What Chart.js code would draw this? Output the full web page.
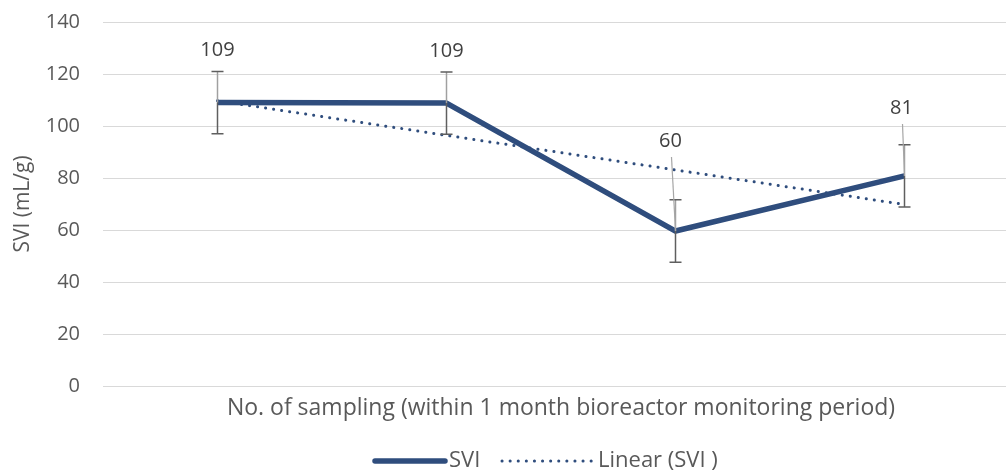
<!DOCTYPE html>
<html>
<head>
<meta charset="utf-8">
<script src="https://cdn.jsdelivr.net/npm/chart.js@4.4.0/dist/chart.umd.min.js"></script>
<style>
  html, body { margin: 0; padding: 0; background: #fff; overflow: hidden; }
  #wrap { width: 1030px; height: 473px; position: relative; }
</style>
</head>
<body>
<div id="wrap"><canvas id="graficoSvi"></canvas></div>
<script>
// dados
const amostras = ['1', '2', '3', '4'];
const svi = [109, 108.8, 59.6, 80.8];
const erroSvi = [12, 12, 12, 12];
const tendencia = [109.7, 96.4, 83.1, 69.8];   // linha de tendência linear (SVI)
const ticksY = [0, 20, 40, 60, 80, 100, 120, 140];

const fonte = '"Open Sans", Lato, sans-serif';
const corTexto = '#595959';
const corSerie = '#2F4D7D';

// barras de erro, rótulos e legenda desenhados à mão
const extrasPlugin = {
    id: 'extras',
    afterDatasetsDraw(chart, args, opts) {
        const ctx = chart.ctx;
        const y = chart.scales.y;
        const pts = chart.getDatasetMeta(0).data;
        ctx.save();
        pts.forEach((pt, i) => {
            const yTop = y.getPixelForValue(svi[i] + erroSvi[i]);
            const yBot = y.getPixelForValue(svi[i] - erroSvi[i]);
            ctx.lineWidth = 1.5;
            ctx.strokeStyle = '#A0A0A0';
            ctx.beginPath();
            ctx.moveTo(pt.x, yTop);
            ctx.lineTo(pt.x, pt.y);
            ctx.stroke();
            ctx.strokeStyle = '#5F5F5F';
            ctx.beginPath();
            ctx.moveTo(pt.x, pt.y);
            ctx.lineTo(pt.x, yBot);
            ctx.moveTo(pt.x - 6, yTop); ctx.lineTo(pt.x + 6, yTop);
            ctx.moveTo(pt.x - 6, yBot); ctx.lineTo(pt.x + 6, yBot);
            ctx.stroke();

            // rótulo de dados
            const off = opts.offsets[i];
            const lx = pt.x + off[0];
            const ly = pt.y + off[1];
            if (off[2]) {
                ctx.strokeStyle = '#A6A6A6';
                ctx.lineWidth = 1.2;
                ctx.beginPath();
                ctx.moveTo(lx + 1, ly + 16);
                ctx.lineTo(pt.x, pt.y);
                ctx.stroke();
            }
            ctx.fillStyle = '#404040';
            ctx.font = '20px ' + fonte;
            ctx.textAlign = 'center';
            ctx.textBaseline = 'middle';
            ctx.fillText(String(Math.round(svi[i])), lx, ly);
        });
        ctx.restore();
    },
    afterDraw(chart) {
        const ctx = chart.ctx;
        const ly = 461;
        ctx.save();
        ctx.strokeStyle = corSerie;
        ctx.lineCap = 'round';
        ctx.lineWidth = 5.5;
        ctx.beginPath();
        ctx.moveTo(375, ly); ctx.lineTo(445, ly);
        ctx.stroke();
        ctx.lineWidth = 3;
        ctx.setLineDash([0.1, 8]);
        ctx.beginPath();
        ctx.moveTo(502, ly); ctx.lineTo(592, ly);
        ctx.stroke();
        ctx.setLineDash([]);
        ctx.fillStyle = corTexto;
        ctx.font = '22px ' + fonte;
        ctx.textAlign = 'left';
        ctx.textBaseline = 'middle';
        ctx.fillText('SVI', 449, ly);
        ctx.fillText('Linear (SVI )', 598, ly);
        ctx.restore();
    }
};

new Chart(document.getElementById('graficoSvi'), {
    type: 'line',
    data: {
        labels: amostras,
        datasets: [
            {
                label: 'SVI',
                data: svi,
                borderColor: corSerie,
                borderWidth: 5.5,
                borderJoinStyle: 'round',
                pointRadius: 0,
                tension: 0,
                order: 0
            },
            {
                label: 'Linear (SVI )',
                data: tendencia,
                borderColor: corSerie,
                borderWidth: 3,
                borderDash: [0.1, 8],
                borderCapStyle: 'round',
                pointRadius: 0,
                tension: 0,
                order: 1
            }
        ]
    },
    options: {
        responsive: true,
        maintainAspectRatio: false,
        animation: false,
        layout: { padding: { top: 22, right: 11, left: 0, bottom: 0 } },
        plugins: {
            legend: { display: false },
            tooltip: { enabled: false },
            extras: { offsets: [[0, -52, false], [0, -52, false], [-5, -90, true], [-3, -68, true]] }
        },
        scales: {
            x: {
                offset: true,
                grid: { display: false },
                border: { display: false },
                ticks: { display: false },
                title: {
                    display: true,
                    text: 'No. of sampling (within 1 month bioreactor monitoring period)',
                    color: corTexto,
                    font: { family: fonte, size: 23 },
                    padding: { top: 0, bottom: 51 }
                },
                afterFit(s) { s.height = 87; }
            },
            y: {
                min: 0,
                max: 140,
                afterBuildTicks(s) { s.ticks = ticksY.map(v => ({ value: v })); },
                ticks: { color: corTexto, font: { family: fonte, size: 20 }, padding: 23 },
                grid: { color: '#D9D9D9', lineWidth: 1, drawTicks: false },
                border: { display: false },
                title: {
                    display: true,
                    text: 'SVI (mL/g)',
                    color: corTexto,
                    font: { family: fonte, size: 21 },
                    padding: { top: 10, bottom: 0 }
                },
                afterFit(s) { s.width = 103; s.paddingTop = 0; s.paddingBottom = 0; }
            }
        }
    },
    plugins: [extrasPlugin]
});
</script>
</body>
</html>
